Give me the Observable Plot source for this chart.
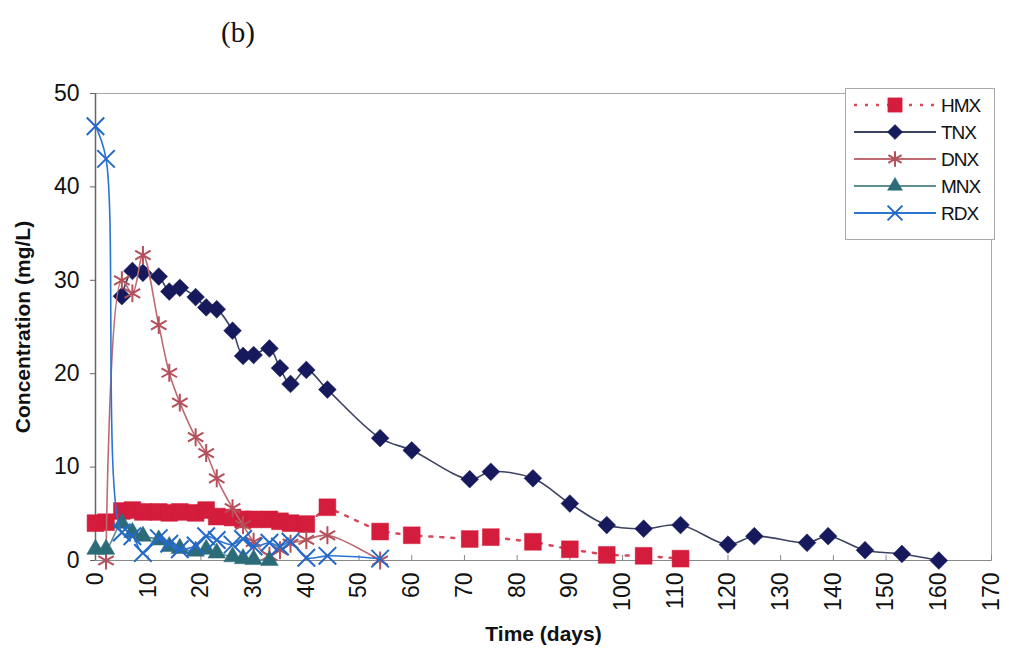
<!DOCTYPE html>
<html><head><meta charset="utf-8">
<script src="https://cdn.jsdelivr.net/npm/d3@7"></script>
<script src="https://cdn.jsdelivr.net/npm/@observablehq/plot@0.6"></script>
<style>
body{margin:0;background:#fff;}
#wrap{position:relative;width:1010px;height:655px;font-family:"Liberation Sans",Arial,sans-serif;}
#title{position:absolute;left:221px;top:16px;font-family:"Liberation Serif",serif;font-size:29px;color:#111;}
#legend{position:absolute;left:845px;top:88px;width:148px;height:150px;border:1px solid #aaa;background:#fff;}
#chart{position:absolute;left:0;top:0;}
</style></head><body>
<div id="wrap"><div id="chart"></div><div id="title">(b)</div><div id="legend"></div></div>
<script>
// ---- data ----
const seriesNames = ["HMX", "TNX", "DNX", "MNX", "RDX"];

const hmxDays = [0, 2, 5, 7, 9, 12, 14, 16, 19, 21, 23, 26, 28, 30, 33, 35, 37, 40, 44, 54, 60, 71, 75, 83, 90, 97, 104, 111];
const hmxConc = [4.0, 4.1, 5.3, 5.4, 5.2, 5.2, 5.1, 5.2, 5.1, 5.4, 4.7, 4.6, 4.4, 4.4, 4.4, 4.2, 4.0, 3.9, 5.7, 3.1, 2.7, 2.3, 2.5, 2.0, 1.2, 0.6, 0.5, 0.2];

const tnxDays = [5, 7, 9, 12, 14, 16, 19, 21, 23, 26, 28, 30, 33, 35, 37, 40, 44, 54, 60, 71, 75, 83, 90, 97, 104, 111, 120, 125, 135, 139, 146, 153, 160];
const tnxConc = [28.3, 31.0, 30.8, 30.4, 28.8, 29.2, 28.2, 27.1, 26.9, 24.6, 21.9, 22.0, 22.7, 20.6, 18.9, 20.4, 18.3, 13.1, 11.8, 8.7, 9.5, 8.8, 6.1, 3.8, 3.4, 3.8, 1.7, 2.6, 1.9, 2.6, 1.1, 0.7, 0.0];

const dnxDays = [2, 5, 7, 9, 12, 14, 16, 19, 21, 23, 26, 28, 30, 33, 35, 37, 40, 44, 54];
const dnxConc = [0.0, 30.0, 28.6, 32.7, 25.2, 20.1, 16.9, 13.2, 11.5, 8.8, 5.6, 3.8, 2.0, 0.5, 1.1, 1.8, 2.2, 2.7, 0.0];

const mnxDays = [0, 2, 5, 7, 9, 12, 14, 16, 19, 21, 23, 26, 28, 30, 33];
const mnxConc = [1.2, 1.2, 4.0, 3.0, 2.6, 2.2, 1.5, 1.3, 1.0, 1.2, 0.8, 0.4, 0.2, 0.1, 0.0];

const rdxDays = [0, 2, 5, 7, 9, 12, 14, 16, 19, 21, 23, 26, 28, 30, 33, 35, 37, 40, 44, 54];
const rdxConc = [46.5, 43.0, 3.0, 2.6, 0.8, 2.4, 1.8, 1.2, 1.6, 2.6, 2.2, 1.7, 2.3, 1.5, 1.9, 1.5, 2.0, 0.3, 0.5, 0.2];

const xTicks = [0, 10, 20, 30, 40, 50, 60, 70, 80, 90, 100, 110, 120, 130, 140, 150, 160, 170];
const yTicks = [0, 10, 20, 30, 40, 50];

// ---- styles ----
const styles = {
  HMX: {line: "#d84858", mark: "#d41c3c", symbol: "square", r: 9.5, filled: true, dash: "3,8", width: 2.5},
  TNX: {line: "#3c4262", mark: "#161a5c", symbol: "diamond2", r: 8, filled: true, dash: null, width: 1.6},
  DNX: {line: "#bd6a72", mark: "#b4505a", symbol: "asterisk", r: 8.5, filled: false, dash: null, width: 1.6},
  MNX: {line: "#5f8d96", mark: "#2c6c78", symbol: "triangle", r: 6.5, filled: true, dash: null, width: 1.6},
  RDX: {line: "#2a74d2", mark: "#2468c8", symbol: "times", r: 8, filled: false, dash: null, width: 1.6}
};

const rows = (name, xs, ys) => xs.map((d, i) => ({series: name, day: d, conc: ys[i]}));
const data = {
  HMX: rows("HMX", hmxDays, hmxConc),
  TNX: rows("TNX", tnxDays, tnxConc),
  DNX: rows("DNX", dnxDays, dnxConc),
  MNX: rows("MNX", mnxDays, mnxConc),
  RDX: rows("RDX", rdxDays, rdxConc)
};

const seriesMarks = seriesNames.flatMap(name => {
  const s = styles[name];
  const lineOpts = {x: "day", y: "conc", stroke: s.line, strokeWidth: s.width, curve: "catmull-rom"};
  if (s.dash) { lineOpts.strokeDasharray = s.dash; lineOpts.curve = "linear"; }
  const dotOpts = {x: "day", y: "conc", symbol: () => s.symbol, r: s.r};
  if (s.filled) { dotOpts.fill = s.mark; dotOpts.stroke = s.mark; dotOpts.strokeWidth = 0.5; }
  else { dotOpts.stroke = s.mark; dotOpts.fill = "none"; dotOpts.strokeWidth = 2; }
  return [Plot.line(data[name], lineOpts), Plot.dot(data[name], dotOpts)];
});

const chart = Plot.plot({
  width: 1010, height: 655,
  marginTop: 93, marginLeft: 95, marginRight: 19, marginBottom: 95,
  style: {fontFamily: "Liberation Sans, Arial, sans-serif", fontSize: "23px", color: "#111", background: "#fff", overflow: "visible"},
  x: {domain: [0, 170]},
  y: {domain: [0, 50]},
  symbol: {type: "identity"},
  marks: [
    Plot.frame({stroke: "#aaa"}),
    Plot.axisY(yTicks, {tickSize: 5, tickPadding: 11, stroke: "#666", label: "Concentration (mg/L)", labelArrow: "none", labelAnchor: "center", labelOffset: 80, fontSize: 23}),
    Plot.axisX(xTicks, {tickSize: -5, tickPadding: 17, stroke: "#888", tickRotate: -90, label: "Time (days)", labelArrow: "none", labelAnchor: "center", labelOffset: 80, fontSize: 23}),
    Plot.ruleY([0], {stroke: "#888", strokeWidth: 1.2}),
    Plot.ruleX([0], {stroke: "#666", strokeWidth: 1.5}),
    ...seriesMarks
  ]
});
document.getElementById("chart").appendChild(chart);
d3.select(chart).select('g[aria-label="y-axis label"] text').text("Concentration (mg/L)");
d3.select(chart).select('g[aria-label="x-axis label"] text').text("Time (days)");
d3.select(chart).selectAll('g[aria-label="y-axis label"] text, g[aria-label="x-axis label"] text')
  .style("font-weight", "bold").style("font-size", "21px");

// ---- legend ----
const lg = d3.select("#legend").append("svg").attr("width", 148).attr("height", 150);
const symMap = {square: d3.symbolSquare, diamond2: d3.symbolDiamond2, asterisk: d3.symbolAsterisk, triangle: d3.symbolTriangle, times: d3.symbolTimes};
seriesNames.forEach((name, i) => {
  const s = styles[name];
  const y = 16 + i * 27;
  lg.append("line").attr("x1", 8).attr("x2", 90).attr("y1", y).attr("y2", y)
    .attr("stroke", s.line).attr("stroke-width", s.dash ? 2.5 : 2).attr("stroke-dasharray", s.dash ? "3,8" : null);
  const size = Math.PI * (s.r * 0.85) ** 2;
  lg.append("path").attr("d", d3.symbol(symMap[s.symbol], size)()).attr("transform", `translate(49,${y})`)
    .attr("fill", s.filled ? s.mark : "none").attr("stroke", s.mark).attr("stroke-width", s.filled ? 0.5 : 2);
  lg.append("text").attr("x", 95).attr("y", y).attr("dy", "0.36em").text(name)
    .attr("font-size", 19).attr("letter-spacing", "-1px").attr("fill", "#111")
    .attr("font-family", "Liberation Sans, Arial, sans-serif");
});
</script>
</body></html>
